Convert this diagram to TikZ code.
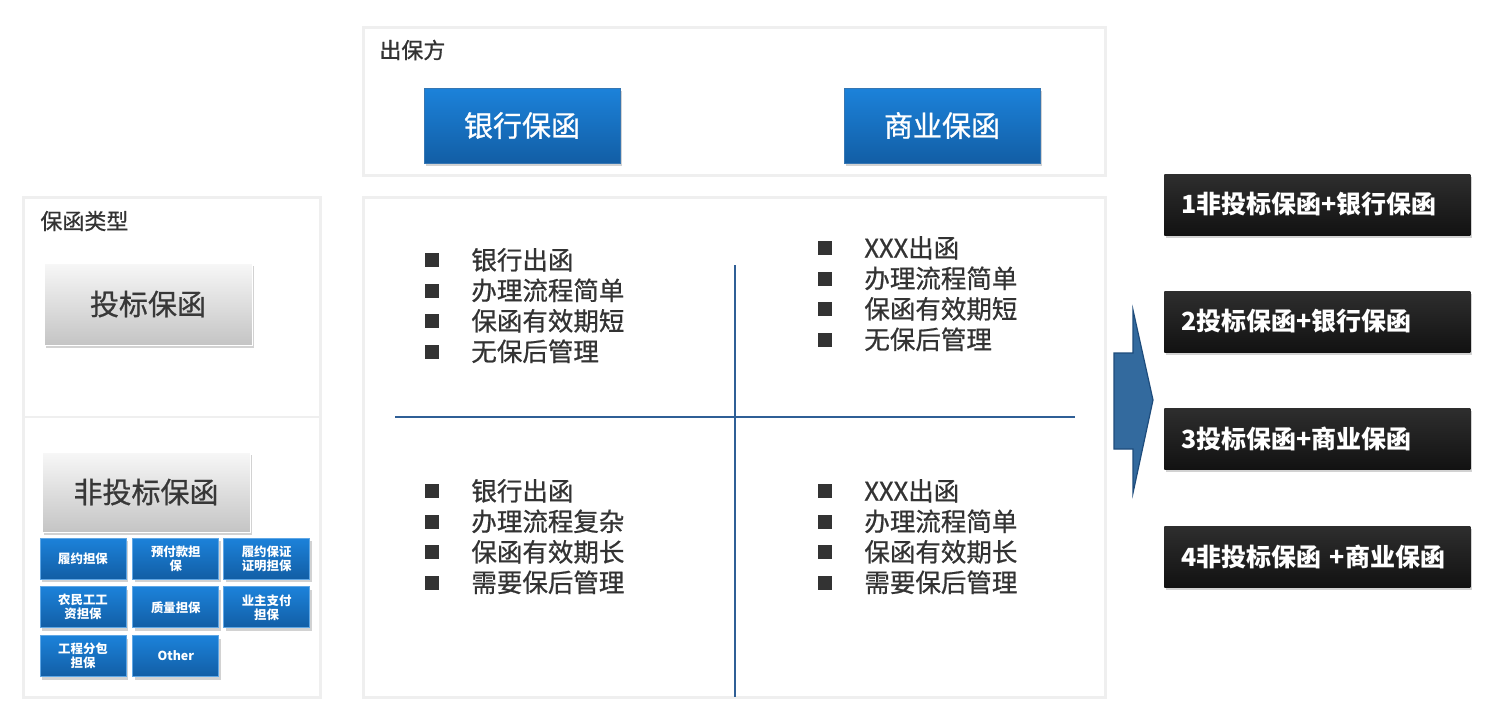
\documentclass[tikz,border=0pt]{standalone}
\usepackage{fontspec}
\setmainfont{Noto Sans CJK SC}
\newfontfamily\cjkmid[FakeBold=0.7]{Noto Sans CJK SC}
\usepackage{tikz}
\usetikzlibrary{positioning}
\usetikzlibrary{shadows}

\definecolor{framegray}{HTML}{EFEFEF}
\definecolor{quadblue}{HTML}{2F5F96}
\definecolor{btntop}{HTML}{1C82DA}
\definecolor{btnbot}{HTML}{125EA5}
\definecolor{textgray}{HTML}{333333}
\definecolor{arrowblue}{HTML}{336A9E}
\definecolor{arrowedge}{HTML}{1E4C7C}
\newcommand\qitem[1]{\makebox[23pt][l]{\raisebox{1.2pt}{\textcolor{textgray}{\rule{7pt}{7pt}}}}#1}

\begin{document}
\begin{tikzpicture}[x=0.5pt,y=-0.5pt,
	panel/.style={draw=framegray, line width=1.5pt, fill=white},
	title/.style={anchor=west, inner sep=0, text=textgray, font=\cjkmid\fontsize{11}{13}\selectfont},
	bluebtn/.style={minimum width=98pt, minimum height=37.5pt, top color=btntop, bottom color=btnbot, draw=btnbot!85!white, text=white, font=\cjkmid\fontsize{14.5}{16}\selectfont, drop shadow={shadow xshift=1pt, shadow yshift=-1.5pt, opacity=0.35}},
	graybtn/.style={minimum width=104pt, top color=white!97!black, bottom color=white!77!black, draw=white, text=black!78, font=\cjkmid\fontsize{14.5}{16}\selectfont, drop shadow={shadow xshift=1pt, shadow yshift=-1.5pt, opacity=0.35}},
	tinybtn/.style={minimum width=43pt, minimum height=20.5pt, inner sep=1pt, align=center, top color=btntop, bottom color=btnbot, draw=btntop!70!white, text=white, font=\bfseries\fontsize{6.2}{7}\selectfont, drop shadow={shadow xshift=1pt, shadow yshift=-1.5pt, opacity=0.35}},
	qtext/.style={anchor=base west, inner sep=0, align=left, text=textgray, font=\cjkmid\fontsize{12.75}{15.25}\selectfont},
	darkbox/.style={anchor=west, minimum height=30.5pt, text width=136pt, inner xsep=8.5pt, align=left, top color=black!82, bottom color=black!93, text=white, font=\bfseries\fontsize{12.5}{14}\selectfont, drop shadow={shadow xshift=1pt, shadow yshift=-1.5pt, opacity=0.35}},
	quadline/.style={draw=quadblue, line width=1pt}]
	\fill[white] (0,0) rectangle (1490,720);
	\useasboundingbox (0,0) rectangle (1490,720);
	% frames
	\draw[panel] (363,27) rectangle (1105,175);
	\draw[panel] (363,197) rectangle (1105,697);
	\draw[panel] (23,197) rectangle (320,697);
	\draw[framegray, line width=1pt] (23,417) -- (320,417);
	% issuer
	\node[title] at (379,50) (ISSUER) {出保方};
	\node[bluebtn] at (522,125.5) (BANK) {银行保函};
	\node[bluebtn] at (942,125.5) (COMM) {商业保函};
	% quadrants
	\coordinate (VT) at (735,265);
	\coordinate (VB) at (735,697);
	\coordinate (HL) at (395,417);
	\coordinate (HR) at (1075,417);
	\draw[quadline] (VT) -- (VB);
	\draw[quadline] (HL) -- (HR);
	\node[qtext] at (425,361) (QTL) {\qitem{银行出函}\\\qitem{办理流程简单}\\\qitem{保函有效期短}\\\qitem{无保后管理}};
	\node[qtext] at (818,349) (QTR) {\qitem{XXX出函}\\\qitem{办理流程简单}\\\qitem{保函有效期短}\\\qitem{无保后管理}};
	\node[qtext] at (425,592) (QBL) {\qitem{银行出函}\\\qitem{办理流程复杂}\\\qitem{保函有效期长}\\\qitem{需要保后管理}};
	\node[qtext] at (818,592) (QBR) {\qitem{XXX出函}\\\qitem{办理流程简单}\\\qitem{保函有效期长}\\\qitem{需要保后管理}};
	% types
	\node[title] at (40,221) (TYPES) {保函类型};
	\node[graybtn, minimum height=41pt] at (148,304) (BID) {投标保函};
	\node[graybtn, minimum height=40pt] at (146,492) (NONBID) {非投标保函};
	\node[tinybtn] at (83,558.5) (T1) {履约担保};
	\node[tinybtn, right=3pt of T1] (T2) {预付款担\\保};
	\node[tinybtn, right=2pt of T2] (T3) {履约保证\\证明担保};
	\node[tinybtn, below=3.5pt of T1] (T4) {农民工工\\资担保};
	\node[tinybtn, below=3.5pt of T2] (T5) {质量担保};
	\node[tinybtn, below=3.5pt of T3] (T6) {业主支付\\担保};
	\node[tinybtn, below=3.5pt of T4] (T7) {工程分包\\担保};
	\node[tinybtn, below=3.5pt of T5] (T8) {Other};
	% arrow
	\draw[fill=arrowblue, draw=arrowedge, line width=0.6pt] (1114,353) -- (1133,353) -- (1133,310) -- (1153,400) -- (1133,493) -- (1133,449) -- (1114,449) -- cycle;
	% combinations
	\node[darkbox] at (1164,204.5) (C1) {1非投标保函+银行保函};
	\node[darkbox] at (1164,321.5) (C2) {2投标保函+银行保函};
	\node[darkbox] at (1164,438.5) (C3) {3投标保函+商业保函};
	\node[darkbox] at (1164,556.5) (C4) {4非投标保函 +商业保函};
\end{tikzpicture}
\end{document}
